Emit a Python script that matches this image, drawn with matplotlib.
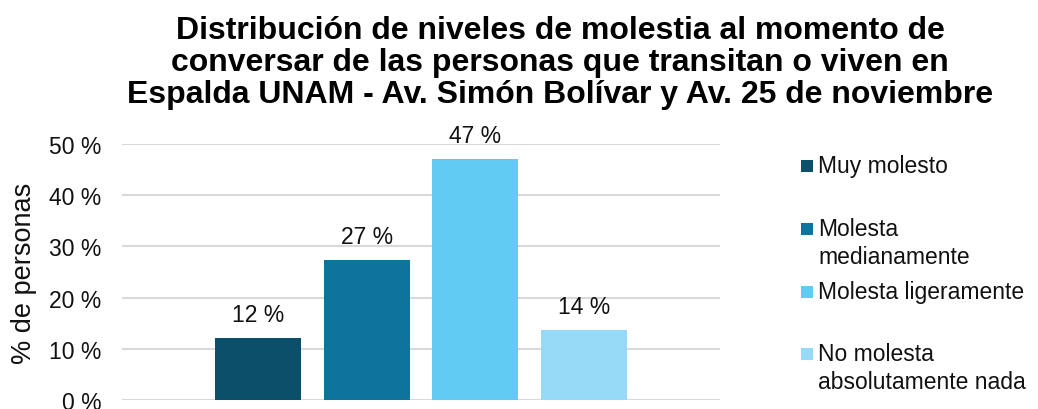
import matplotlib
matplotlib.use("Agg")
import matplotlib.pyplot as plt
from matplotlib.patches import Rectangle

plt.rcParams['font.family'] = ['Liberation Sans', 'DejaVu Sans']

categories = ["Muy molesto", "Molesta\nmedianamente", "Molesta ligeramente",
              "No molesta\nabsolutamente nada"]
values = [12.1, 27.3, 47.1, 13.7]
labels = ["12 %", "27 %", "47 %", "14 %"]
colors = ["#0C4F6A", "#0E739D", "#61CBF3", "#97DAF7"]
yticks = [0, 10, 20, 30, 40, 50]
ytick_labels = ["0 %", "10 %", "20 %", "30 %", "40 %", "50 %"]
title = ("Distribución de niveles de molestia al momento de\n"
         "conversar de las personas que transitan o viven en\n"
         "Espalda UNAM - Av. Simón Bolívar y Av. 25 de noviembre")

W, H = 1038, 410
fig = plt.figure(figsize=(W / 100, H / 100), dpi=100)
ax = fig.add_axes([122 / W, 1 - 401 / H, (720 - 122) / W, (401 - 145) / H])

x = list(range(len(values)))
ax.bar(x, values, width=0.79, color=colors, zorder=3)
for xi, v, lab in zip(x, values, labels):
    ax.text(xi, v + 3.3, lab, ha='center', va='baseline', fontsize=16.5, color='#111111')

ax.set_xlim(-1.25, 4.25)
ax.set_ylim(0, 50)
ax.set_yticks(yticks)
ax.set_yticklabels(ytick_labels, fontsize=16.5, color='#111111')
ax.set_xticks([])
ax.grid(axis='y', color='#d9d9d9', linewidth=1.5, zorder=0)
ax.tick_params(axis='y', length=0, pad=15)
for s in ax.spines.values():
    s.set_visible(False)

fig.text(24 / W, 1 - 273 / H, "% de personas", rotation=90, ha='center', va='center',
         fontsize=19.5, color='#111111')

fig.text(560 / W, 1 - 16 / H, title, ha='center', va='top', fontsize=23,
         fontweight='bold', linespacing=1.08, color='black')

# legend (manual)
ys = [167, 230, 293, 355]
for yy, c, cat in zip(ys, colors, categories):
    fig.patches.append(Rectangle((801 / W, 1 - (yy + 6) / H), 12 / W, 12 / H,
                                 transform=fig.transFigure, facecolor=c, edgecolor='none'))
    fig.text(818 / W, 1 - (yy - 12) / H, cat, ha='left', va='top', fontsize=16.5,
             linespacing=1.3, color='#111111')

fig.savefig("out.png", dpi=100)
